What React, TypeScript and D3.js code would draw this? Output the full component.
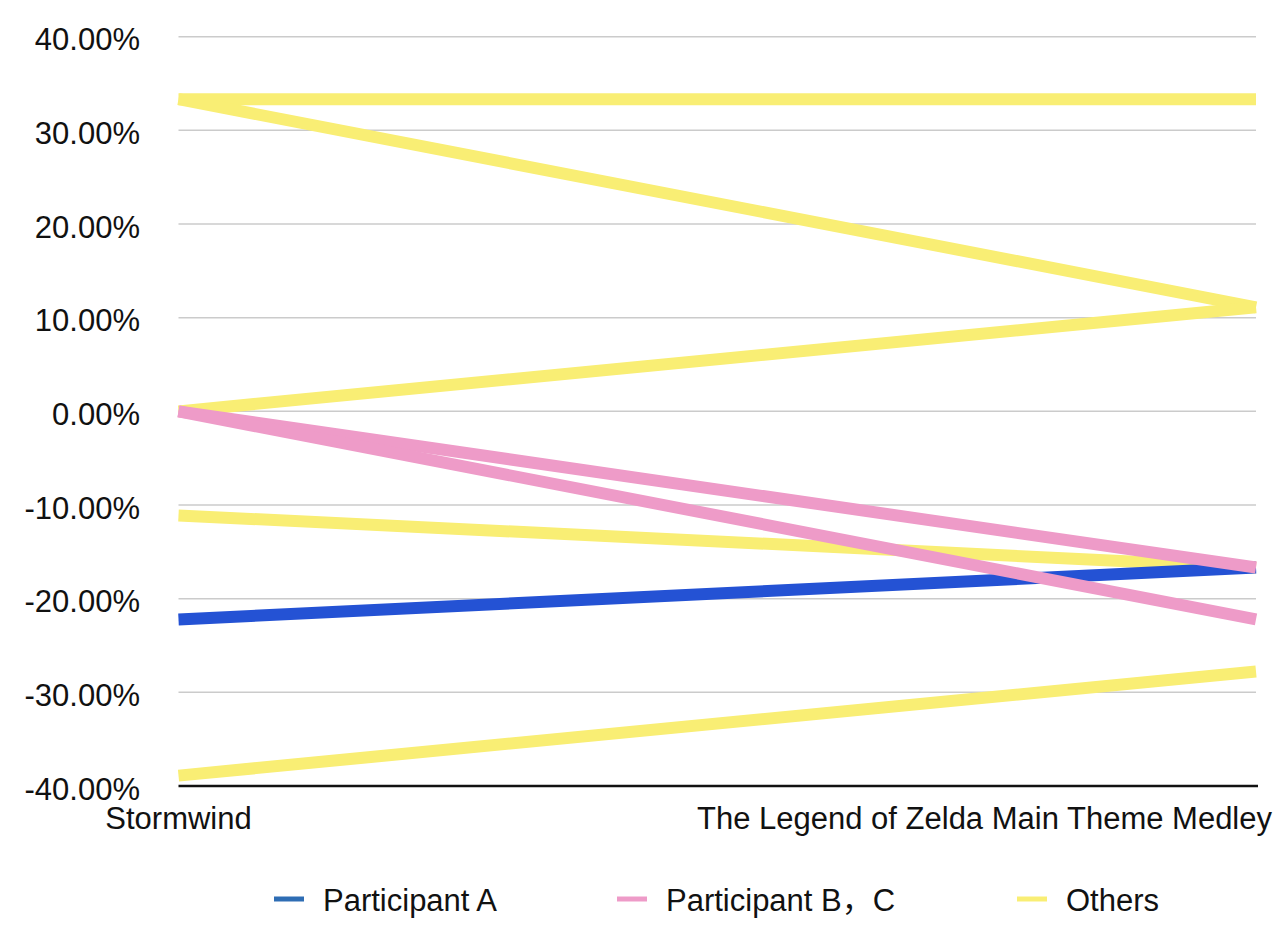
import React from "react";
import * as d3 from "d3";

const categories = ["Stormwind", "The Legend of Zelda Main Theme Medley"];
const yTicks = [-40, -30, -20, -10, 0, 10, 20, 30, 40];

const participantA = [[-22.22, -16.67]];
const participantBC = [
  [0, -16.67],
  [0, -22.22],
];
const others = [
  [33.33, 33.33],
  [33.33, 11.11],
  [0, 11.11],
  [-11.11, -16.67],
  [-38.89, -27.78],
];

const seriesNames = ["Participant A", "Participant B，C", "Others"];
const lineColors = { a: "#2452D4", bc: "#EE9BC8", o: "#F9EE74" };
const legendColors = ["#2E6DB4", "#EE9BC8", "#F9EE74"];

const W = 1279;
const H = 934;
const FONT = "'Liberation Sans', Arial, Helvetica, 'Noto Sans CJK SC', sans-serif";

export default function App() {
  const margin = { left: 178.5, right: 23, top: 36.7, bottom: 148 };
  const x = d3
    .scalePoint<string>()
    .domain(categories)
    .range([margin.left, W - margin.right]);
  const y = d3
    .scaleLinear()
    .domain([-40, 40])
    .range([H - margin.bottom, margin.top]);

  const line = d3
    .line<[string, number]>()
    .x((d) => x(d[0]) as number)
    .y((d) => y(d[1]));

  const toPts = (vals: number[]) =>
    vals.map((v, i) => [categories[i], v] as [string, number]);

  const x0 = x.range()[0];
  const x1 = x.range()[1];

  const legendX = [274, 617, 1017];

  return (
    <svg
      width={W}
      height={H}
      style={{ position: "absolute", left: 0, top: 0, background: "#fff" }}
      fontFamily={FONT}
    >
      {yTicks.map((t) =>
        t === -40 ? null : (
          <line
            key={t}
            x1={x0}
            x2={x1}
            y1={y(t)}
            y2={y(t)}
            stroke="#CBCBCB"
            strokeWidth={1.5}
          />
        )
      )}
      {yTicks.map((t) => (
        <text
          key={"l" + t}
          x={140}
          y={y(t) + 13.5}
          textAnchor="end"
          fontSize={31}
          fill="#111"
        >
          {t.toFixed(2) + "%"}
        </text>
      ))}
      <line
        x1={x0}
        x2={x1 + 2}
        y1={y(-40)}
        y2={y(-40)}
        stroke="#111"
        strokeWidth={2.5}
      />
      {categories.map((c, i) => {
        const cx = x(c) as number;
        return (
          <text
            key={c}
            x={i === 0 ? cx : W - 7}
            y={829}
            textAnchor={i === 0 ? "middle" : "end"}
            fontSize={31}
            fill="#111"
          >
            {c}
          </text>
        );
      })}
      <g fill="none" strokeWidth={12} strokeLinecap="butt">
        {others.map((s, i) => (
          <path key={"o" + i} d={line(toPts(s)) || ""} stroke={lineColors.o} />
        ))}
        {participantA.map((s, i) => (
          <path key={"a" + i} d={line(toPts(s)) || ""} stroke={lineColors.a} />
        ))}
        {participantBC.map((s, i) => (
          <path key={"b" + i} d={line(toPts(s)) || ""} stroke={lineColors.bc} />
        ))}
      </g>
      {seriesNames.map((n, i) => (
        <g key={n} transform={`translate(${legendX[i]},899)`}>
          <line x1={0} x2={30} y1={0} y2={0} stroke={legendColors[i]} strokeWidth={5} />
          <text x={49} y={12} fontSize={31} fill="#111">
            {n}
          </text>
        </g>
      ))}
    </svg>
  );
}
